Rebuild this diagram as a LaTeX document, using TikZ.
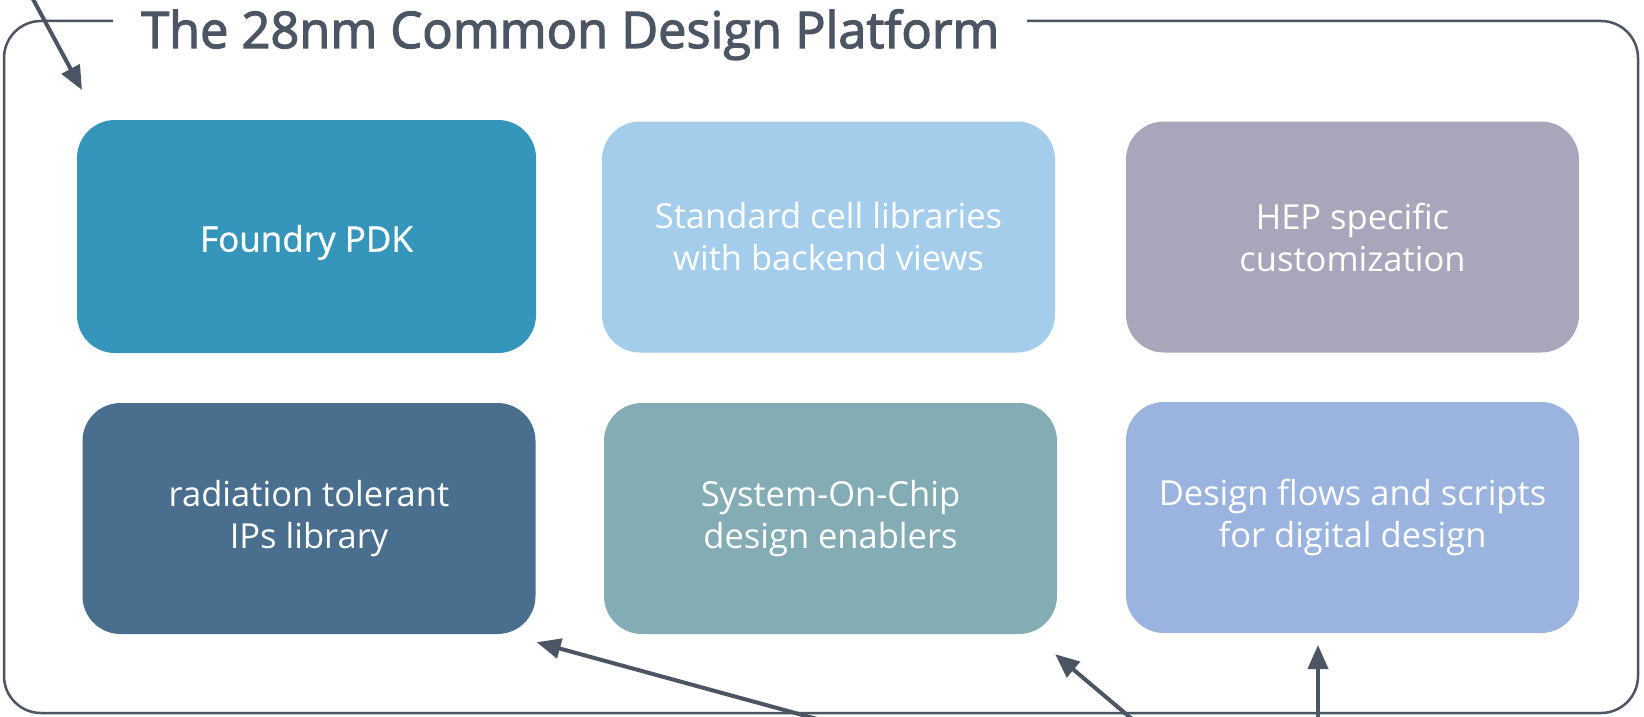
\documentclass[tikz,border=0pt]{standalone}
\usepackage{fontspec}
\setmainfont{Open Sans}
\newfontfamily\titlefont{Open Sans}[FakeBold=2.4]
\newfontfamily\pdkfont{Open Sans}[FakeBold=1.0]
\usetikzlibrary{arrows.meta}
\definecolor{ink}{HTML}{4B5563}
\definecolor{cA}{HTML}{3595BA}
\definecolor{cB}{HTML}{A4CDEC}
\definecolor{cC}{HTML}{A9A5BA}
\definecolor{cD}{HTML}{4A6F8E}
\definecolor{cE}{HTML}{84ACB5}
\definecolor{cF}{HTML}{9AB3DF}
\begin{document}
\begin{tikzpicture}[x=1pt,y=-1pt,
  tile/.style={rectangle, rounded corners=38pt, minimum width=453pt, minimum height=231pt,
    inner sep=0pt, align=center, text=white, font=\fontsize{34.5}{42}\selectfont},
  arr/.style={draw=ink, line width=4pt, -{Triangle[length=24pt,width=20pt]}}]
\useasboundingbox (0,0) rectangle (1644,717);
\fill[white] (0,0) rectangle (1644,717);
% frame
\draw[ink, line width=2.5pt, rounded corners=37pt] (113,21) -- (4,21) -- (4,713) -- (1638,713) -- (1638,21) -- (1027,21);
\node (title) [anchor=base west, inner sep=0pt, text=ink, font=\titlefont\fontsize{50.5}{60}\selectfont] at (141,48) {The 28nm Common Design Platform};
% tiles
\node (pdk) [tile, fill=cA, minimum width=459pt, minimum height=233pt] at (306.5,236.5) {};
\node (pdktext) [inner sep=0pt, text=white, font=\pdkfont\fontsize{35}{42}\selectfont] at ([yshift=-6pt]pdk.center) {Foundry PDK};
\node (std) [tile, fill=cB] at (828.5,237) {Standard cell libraries\\with backend views};
\node (hep) [tile, fill=cC] at (1352.5,237) {HEP specific\\customization};
\node (rad) [tile, fill=cD] at (309,518.5) {radiation tolerant\\IPs library};
\node (soc) [tile, fill=cE] at (830.5,518.5) {System-On-Chip\\design enablers};
\node (flow) [tile, fill=cF] at (1352.5,517.5) {Design flows and scripts\\for digital design};
% connectors
\coordinate (s1) at (20,-25);
\coordinate (t1) at (82,90);
\coordinate (s2) at (850,728);
\coordinate (s3) at (1145,730);
\coordinate (s4) at (1318,730);
\coordinate (t4) at (1318,645);
\draw[arr] (s1) -- (t1);
\draw[arr] (s2) -- ([shift={(1,8)}]rad.south east);
\draw[arr] (s3) -- ([shift={(-2,20)}]soc.south east);
\draw[arr] (s4) -- (t4);
\end{tikzpicture}
\end{document}
